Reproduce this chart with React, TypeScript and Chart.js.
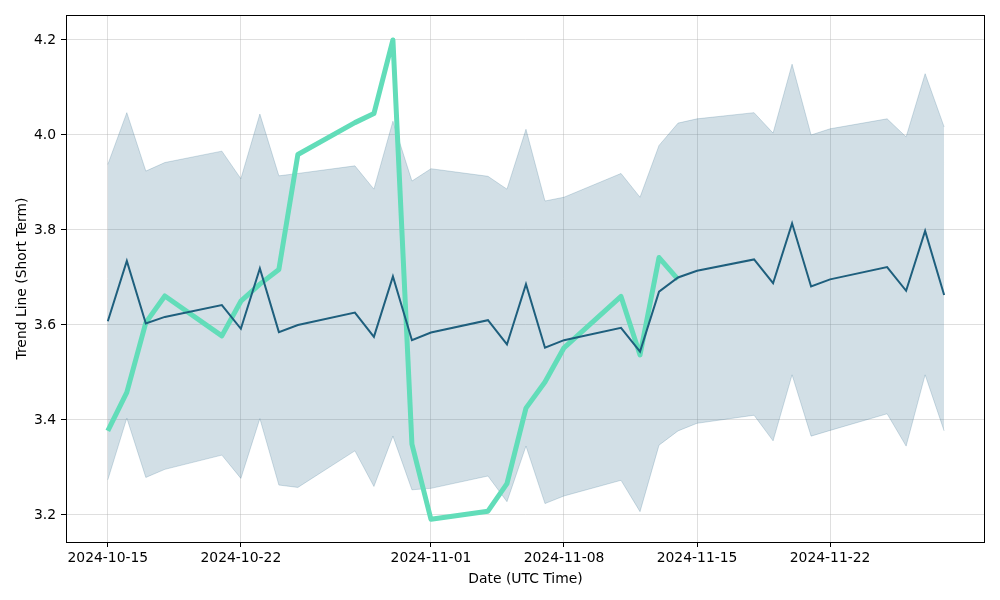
import { useEffect, useRef } from "react";
import { Chart, registerables } from "chart.js";

Chart.register(...registerables);

const dates = [
  "2024-10-15", "2024-10-16", "2024-10-17", "2024-10-18", "2024-10-21", "2024-10-22", "2024-10-23",
  "2024-10-24", "2024-10-25", "2024-10-28", "2024-10-29", "2024-10-30", "2024-10-31", "2024-11-01",
  "2024-11-04", "2024-11-05", "2024-11-06", "2024-11-07", "2024-11-08", "2024-11-11", "2024-11-12",
  "2024-11-13", "2024-11-14", "2024-11-15", "2024-11-18", "2024-11-19", "2024-11-20", "2024-11-21",
  "2024-11-22", "2024-11-25", "2024-11-26", "2024-11-27", "2024-11-28",
];

const trendValues = [
  3.608, 3.735, 3.603, 3.617, 3.642, 3.592, 3.719, 3.585, 3.600, 3.626, 3.575, 3.702, 3.568, 3.584,
  3.610, 3.559, 3.686, 3.552, 3.568, 3.594, 3.544, 3.670, 3.700, 3.714, 3.738, 3.688, 3.814, 3.681,
  3.696, 3.722, 3.672, 3.798, 3.663,
];

const upperValues = [
  3.938, 4.047, 3.924, 3.942, 3.966, 3.908, 4.044, 3.914, 3.919, 3.935, 3.886, 4.029, 3.903, 3.929,
  3.913, 3.886, 4.012, 3.861, 3.869, 3.919, 3.869, 3.978, 4.025, 4.034, 4.047, 4.004, 4.149, 4.000,
  4.013, 4.034, 3.996, 4.129, 4.017,
];

const lowerValues = [
  3.274, 3.404, 3.279, 3.296, 3.326, 3.277, 3.403, 3.263, 3.258, 3.335, 3.260, 3.366, 3.253, 3.256,
  3.282, 3.228, 3.345, 3.224, 3.240, 3.273, 3.207, 3.347, 3.377, 3.393, 3.410, 3.356, 3.495, 3.366,
  3.378, 3.413, 3.345, 3.495, 3.377,
];

// actual values cover the first 23 dates (through 2024-11-14)
const actualValues = [
  3.377, 3.458, 3.605, 3.661, 3.577, 3.650, 3.686, 3.717, 3.959, 4.026, 4.045, 4.200, 3.349, 3.191,
  3.208, 3.266, 3.425, 3.480, 3.552, 3.660, 3.537, 3.742, 3.696,
];

const xTickLabels = ["2024-10-15", "2024-10-22", "2024-11-01", "2024-11-08", "2024-11-15", "2024-11-22"];
const yTickValues = [3.2, 3.4, 3.6, 3.8, 4.0, 4.2];

const DAY = 86400000;
const ORIGIN = Date.UTC(2024, 9, 15);
const toDay = (s: string) => (Date.parse(s + "T00:00:00Z") - ORIGIN) / DAY;

const FONT = { family: "'DejaVu Sans', sans-serif", size: 13.9 };

const framePlugin = {
  id: "frame",
  afterDraw(chart: any) {
    const { ctx, chartArea } = chart;
    ctx.save();
    ctx.strokeStyle = "#000";
    ctx.lineWidth = 1;
    ctx.strokeRect(
      Math.round(chartArea.left) + 0.5,
      Math.round(chartArea.top) + 0.5,
      Math.round(chartArea.right - chartArea.left) - 1,
      Math.round(chartArea.bottom - chartArea.top)
    );
    ctx.restore();
  },
};

export default function App() {
  const ref = useRef<HTMLCanvasElement | null>(null);

  useEffect(() => {
    document.body.style.margin = "0";
    const canvas = ref.current;
    if (!canvas) return;

    const xs = dates.map(toDay);
    const pts = (vals: number[]) => vals.map((v, i) => ({ x: xs[i], y: v }));
    const xTickDays = xTickLabels.map(toDay);

    const chart = new Chart(canvas, {
      type: "line",
      data: {
        datasets: [
          {
            label: "Lower",
            data: pts(lowerValues),
            borderColor: "rgba(30,95,130,0.2)",
            borderWidth: 1,
            pointRadius: 0,
            fill: false,
            order: 3,
          },
          {
            label: "Upper",
            data: pts(upperValues),
            borderColor: "rgba(30,95,130,0.2)",
            backgroundColor: "rgba(30,95,130,0.2)",
            borderWidth: 1,
            pointRadius: 0,
            fill: 0,
            order: 3,
          },
          {
            label: "Trend",
            data: pts(trendValues),
            borderColor: "rgb(30,95,125)",
            borderWidth: 2,
            pointRadius: 0,
            fill: false,
            order: 0,
          },
          {
            label: "Actual",
            data: pts(actualValues),
            borderColor: "rgb(98,221,185)",
            borderWidth: 5,
            borderJoinStyle: "round",
            pointRadius: 0,
            fill: false,
            order: 1,
          },
        ],
      },
      options: {
        animation: false,
        responsive: false,
        layout: { padding: { left: 0, right: 15, top: 15, bottom: 0 } },
        plugins: {
          legend: { display: false },
          tooltip: { enabled: false },
        },
        elements: { line: { tension: 0 } },
        scales: {
          x: {
            type: "linear",
            min: -2.2,
            max: 46.15,
            border: { display: false },
            grid: {
              color: "rgba(176,176,176,0.4)",
              tickColor: "#000",
              tickLength: 5,
              drawTicks: true,
            },
            afterBuildTicks: (scale: any) => {
              scale.ticks = xTickDays.map((v) => ({ value: v }));
            },
            afterFit: (scale: any) => {
              scale.height = 58;
            },
            ticks: {
              autoSkip: false,
              maxRotation: 0,
              padding: 3,
              color: "#000",
              font: FONT,
              callback: (v: any) => {
                const idx = xTickDays.indexOf(Number(v));
                return idx >= 0 ? xTickLabels[idx] : "";
              },
            },
            title: {
              display: true,
              text: "Date (UTC Time)",
              color: "#000",
              font: FONT,
              padding: { top: 0, bottom: 12.5 },
            },
          },
          y: {
            type: "linear",
            min: 3.1431,
            max: 4.2526,
            border: { display: false },
            grid: {
              color: "rgba(176,176,176,0.4)",
              tickColor: "#000",
              tickLength: 5,
              drawTicks: true,
            },
            afterBuildTicks: (scale: any) => {
              scale.ticks = yTickValues.map((v) => ({ value: v }));
            },
            afterFit: (scale: any) => {
              scale.width = 66;
            },
            ticks: {
              padding: 5,
              color: "#000",
              font: FONT,
              callback: (v: any) => Number(v).toFixed(1),
            },
            title: {
              display: true,
              text: "Trend Line (Short Term)",
              color: "#000",
              font: FONT,
              padding: { top: 14, bottom: 0 },
            },
          },
        },
      },
      plugins: [framePlugin],
    } as any);

    return () => chart.destroy();
  }, []);

  return (
    <div style={{ position: "absolute", left: 0, top: 0, width: 1000, height: 600, background: "#fff" }}>
      <canvas ref={ref} width={1000} height={600} style={{ display: "block", width: 1000, height: 600 }} />
    </div>
  );
}
